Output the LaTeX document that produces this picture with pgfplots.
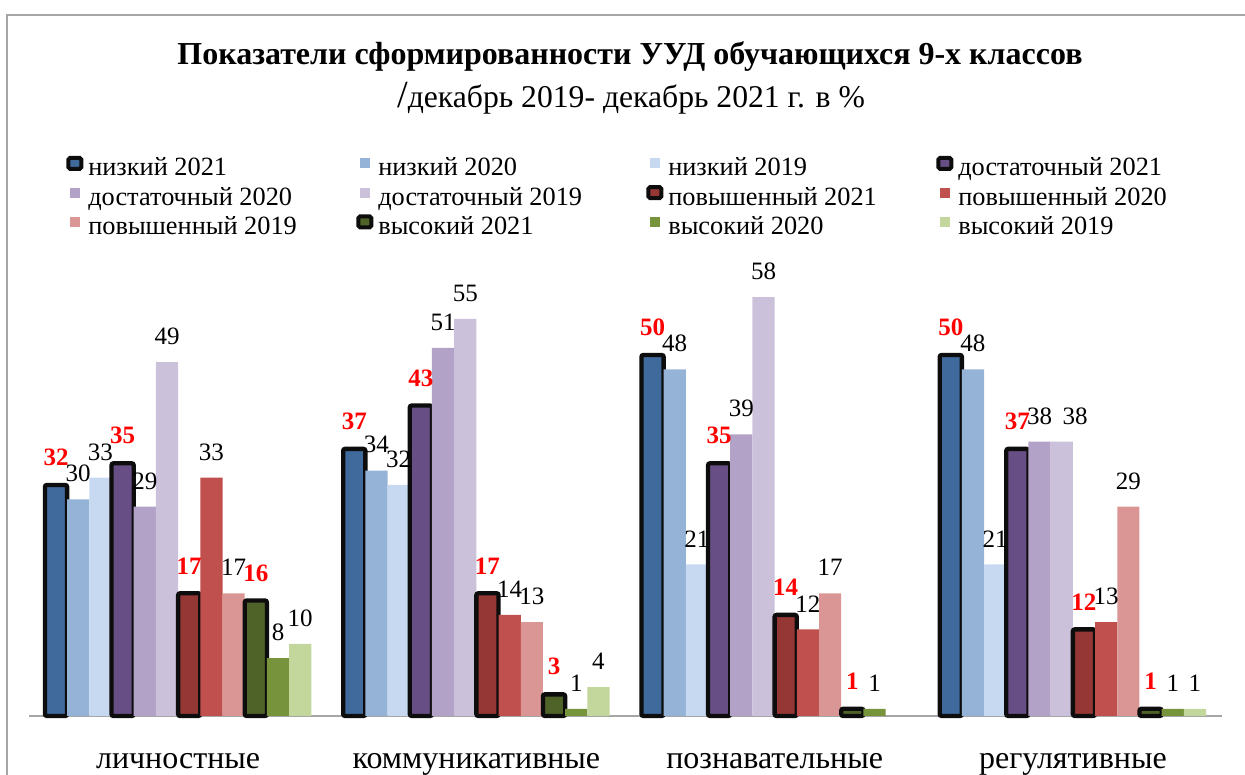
\documentclass[border=0pt]{standalone}
\usepackage{fontspec}
\setmainfont{Liberation Serif}
\usepackage{pgfplots}
\pgfplotsset{compat=1.18}
\definecolor{nA}{HTML}{40699C}
\definecolor{nB}{HTML}{95B3D7}
\definecolor{nC}{HTML}{C6D9F1}
\definecolor{dA}{HTML}{674F86}
\definecolor{dB}{HTML}{B3A2C7}
\definecolor{dC}{HTML}{CCC1DA}
\definecolor{pA}{HTML}{953735}
\definecolor{pB}{HTML}{C0504D}
\definecolor{pC}{HTML}{D99694}
\definecolor{vA}{HTML}{4F6228}
\definecolor{vB}{HTML}{77933C}
\definecolor{vC}{HTML}{C3D69B}
\definecolor{frame}{HTML}{A6A6A6}
\pgfplotsset{
  thin bar/.style={fill=#1, draw=none,
    legend image code/.code={\fill[fill=#1] (2.1pt,1.75pt) rectangle (8.1pt,7.75pt);}},
  thick bar/.style={fill=#1, draw=black!95, line width=2.6pt, rounded corners=1.2pt,
    every node near coord/.append style={text=red, font=\bfseries\fontsize{15}{16}\selectfont},
    legend image code/.code={\draw[fill=#1, draw=black!95, line width=2.4pt, rounded corners=1pt] (1.2pt,1.45pt) rectangle (9pt,8.05pt);}},
}
\begin{document}
\begin{tikzpicture}
\useasboundingbox (0pt,0pt) rectangle (747pt,465pt);
\draw[frame, line width=1.2pt] (4.2pt,-6pt) -- (4.2pt,456pt) -- (756pt,456pt);
\node[font=\bfseries\fontsize{19.2}{21}\selectfont] at (378pt,430.8pt) {Показатели сформированности УУД обучающихся 9-х классов};
\node[font=\fontsize{19}{21}\selectfont] at (378.6pt,406.2pt) {{\fontsize{23}{23}\selectfont/}декабрь 2019- декабрь 2021 г. в \%};
\begin{axis}[
  at={(17.4pt,35.4pt)}, anchor=south west,
  scale only axis, width=715.8pt, height=276.6pt,
  xmin=-0.5, xmax=3.5, ymin=0, ymax=63.85,
  axis x line*=bottom, axis y line=none,
  x axis line style={draw=frame, line width=1.2pt},
  xtick={0,1,2,3},
  xticklabels={личностные, коммуникативные, познавательные, регулятивные},
  major tick length=0pt,
  xticklabel style={anchor=base, yshift=-31.8pt, font=\fontsize{19.2}{21}\selectfont},
  ybar=0pt, bar width=13.32pt,
  /pgf/number format/assume math mode=true,
  nodes near coords,
  every node near coord/.append style={anchor=south, inner sep=0pt, yshift=10.2pt, text=black, font=\fontsize{15}{16}\selectfont},
  legend columns=4,
  legend cell align=left,
  legend style={at={(0.031,1.2158)}, anchor=north west, draw=none, fill=none, inner sep=0pt,
    font=\fontsize{15.8}{17}\selectfont, row sep=0pt,
    nodes={inner xsep=3pt, inner ysep=0pt, text height=11pt, text depth=5.6pt}},
  clip=false,
]
\addplot[thick bar=nA] coordinates {(0,32) (1,37) (2,50) (3,50)};
\addlegendentry{\makebox[157.8pt][l]{низкий 2021}}
\addplot[thin bar=nB] coordinates {(0,30) (1,34) (2,48) (3,48)};
\addlegendentry{\makebox[157.8pt][l]{низкий 2020}}
\addplot[thin bar=nC] coordinates {(0,33) (1,32) (2,21) (3,21)};
\addlegendentry{\makebox[157.8pt][l]{низкий 2019}}
\addplot[thick bar=dA] coordinates {(0,35) (1,43) (2,35) (3,37)};
\addlegendentry{\makebox[157.8pt][l]{достаточный 2021}}
\addplot[thin bar=dB] coordinates {(0,29) (1,51) (2,39) (3,38)};
\addlegendentry{\makebox[157.8pt][l]{достаточный 2020}}
\addplot[thin bar=dC, coordinate style/.condition={x==3}{xshift=8pt}] coordinates {(0,49) (1,55) (2,58) (3,38)};
\addlegendentry{\makebox[157.8pt][l]{достаточный 2019}}
\addplot[thick bar=pA] coordinates {(0,17) (1,17) (2,14) (3,12)};
\addlegendentry{\makebox[157.8pt][l]{повышенный 2021}}
\addplot[thin bar=pB] coordinates {(0,33) (1,14) (2,12) (3,13)};
\addlegendentry{\makebox[157.8pt][l]{повышенный 2020}}
\addplot[thin bar=pC] coordinates {(0,17) (1,13) (2,17) (3,29)};
\addlegendentry{\makebox[157.8pt][l]{повышенный 2019}}
\addplot[thick bar=vA] coordinates {(0,16) (1,3) (2,1) (3,1)};
\addlegendentry{\makebox[157.8pt][l]{высокий 2021}}
\addplot[thin bar=vB] coordinates {(0,8) (1,1) (2,1) (3,1)};
\addlegendentry{\makebox[157.8pt][l]{высокий 2020}}
\addplot[thin bar=vC] coordinates {(0,10) (1,4) (3,1)};
\addlegendentry{\makebox[157.8pt][l]{высокий 2019}}
\end{axis}
\end{tikzpicture}
\end{document}
